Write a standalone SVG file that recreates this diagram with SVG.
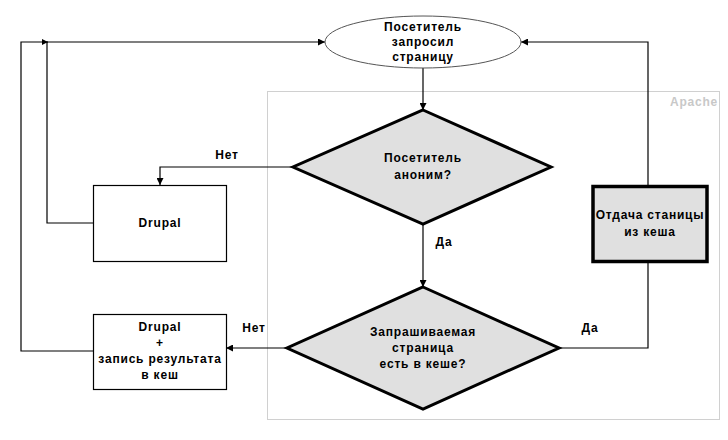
<svg xmlns="http://www.w3.org/2000/svg" width="728" height="440" viewBox="0 0 728 440">
<style>
text{font-family:"Liberation Sans",Arial,sans-serif;font-weight:bold;font-size:12px;letter-spacing:0.8px;fill:#000;text-anchor:middle;dominant-baseline:central}
.ln{fill:none;stroke:#000;stroke-width:1.2}
.dia{fill:#e0e0e0;stroke:#000;stroke-width:3;stroke-linejoin:miter}
.box{fill:#fff;stroke:#000;stroke-width:1.2}
</style>
<defs>
<marker id="ah" viewBox="0 0 10 10" refX="10" refY="5" markerWidth="7" markerHeight="7" markerUnits="userSpaceOnUse" orient="auto">
<path d="M0,0 L10,5 L0,10 Z" fill="#000"/>
</marker>
<marker id="ahs" viewBox="0 0 10 10" refX="10" refY="5" markerWidth="6" markerHeight="6" markerUnits="userSpaceOnUse" orient="auto">
<path d="M0,0 L10,5 L0,10 Z" fill="#000"/>
</marker>
</defs>
<rect width="728" height="440" fill="#fff"/>
<g id="apache">
<rect x="267.5" y="91.5" width="452" height="328" fill="none" stroke="#d0d0d0" stroke-width="1"/>
<text x="694" y="102" style="fill:#c8c8c8">Apache</text>
</g>
<g id="connectors">
<path class="ln" d="M423,68 V110" marker-end="url(#ah)"/>
<path class="ln" d="M423,224 V287" marker-end="url(#ah)"/>
<path class="ln" d="M293,167 H160 V185" marker-end="url(#ah)"/>
<path class="ln" d="M287,348 H226" marker-end="url(#ah)"/>
<path class="ln" d="M559,348 H648 V262"/>
<path class="ln" d="M648,185 V42 H521" marker-end="url(#ah)"/>
<path class="ln" d="M93,223 H47 V42 H325" marker-end="url(#ah)"/>
<path class="ln" d="M93,351 H21 V42 H48" marker-end="url(#ahs)"/>
<text x="227" y="155">Нет</text>
<text x="444" y="242">Да</text>
<text x="254" y="328">Нет</text>
<text x="590" y="328">Да</text>
</g>
<g id="start">
<ellipse cx="423" cy="42" rx="98" ry="26" fill="#fff" stroke="#555" stroke-width="1"/>
<text x="423" y="27">Посетитель</text>
<text x="423" y="42">запросил</text>
<text x="423" y="57">страницу</text>
</g>
<g id="anon">
<polygon class="dia" points="423,110 551,167 423,224 293,167"/>
<text x="423" y="158">Посетитель</text>
<text x="423" y="175">аноним?</text>
</g>
<g id="drupal1">
<rect class="box" x="93.5" y="185.5" width="133" height="76"/>
<text x="160" y="223">Drupal</text>
</g>
<g id="cached">
<polygon class="dia" points="423,287 559,348 423,409 287,348"/>
<text x="423" y="332">Запрашиваемая</text>
<text x="423" y="348">страница</text>
<text x="423" y="364">есть в кеше?</text>
</g>
<g id="drupal2">
<rect class="box" x="93.5" y="314.5" width="133" height="75"/>
<text x="160" y="327">Drupal</text>
<text x="160" y="343">+</text>
<text x="160" y="359">запись результата</text>
<text x="160" y="375">в кеш</text>
</g>
<g id="serve">
<rect x="593" y="186.5" width="114" height="75" fill="#e0e0e0" stroke="#000" stroke-width="3.5"/>
<text x="650" y="215">Отдача станицы</text>
<text x="650" y="232">из кеша</text>
</g>
</svg>
